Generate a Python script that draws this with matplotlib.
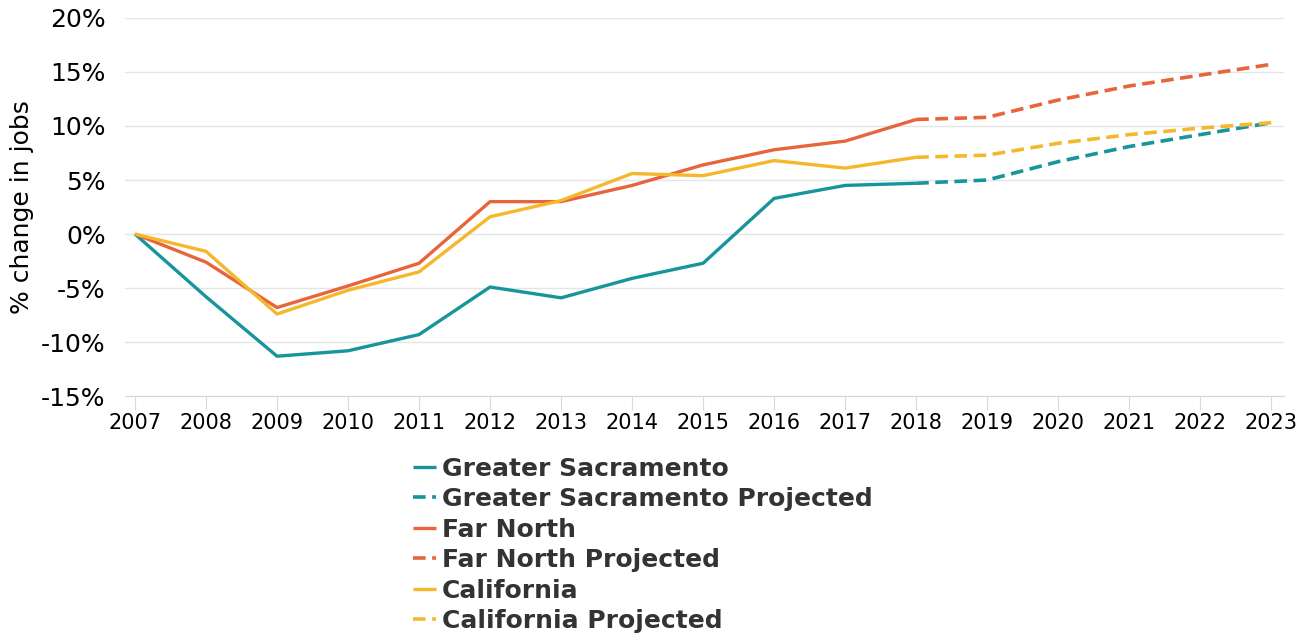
import matplotlib.pyplot as plt

# data (% change in jobs since 2007)
years = list(range(2007, 2024))
actual_years = years[:12]      # 2007-2018
proj_years = years[11:]        # 2018-2023

sac_actual = [0, -5.8, -11.3, -10.8, -9.3, -4.9, -5.9, -4.1, -2.7, 3.3, 4.5, 4.7]
sac_proj = [4.7, 5.0, 6.7, 8.1, 9.2, 10.3]

north_actual = [0, -2.6, -6.8, -4.8, -2.7, 3.0, 3.0, 4.5, 6.4, 7.8, 8.6, 10.6]
north_proj = [10.6, 10.8, 12.4, 13.7, 14.7, 15.7]

ca_actual = [0, -1.6, -7.4, -5.2, -3.5, 1.6, 3.1, 5.6, 5.4, 6.8, 6.1, 7.1]
ca_proj = [7.1, 7.3, 8.4, 9.2, 9.8, 10.3]

labels = ['Greater Sacramento', 'Greater Sacramento Projected',
          'Far North', 'Far North Projected',
          'California', 'California Projected']
colors = ['#17959b', '#e8643a', '#f5b72b']

fig = plt.figure(figsize=(13.12, 6.39), dpi=100)
ax = fig.add_axes([0.0953, 0.380, 0.8834, 0.592])

series = [(sac_actual, sac_proj), (north_actual, north_proj), (ca_actual, ca_proj)]
for i, (act, proj) in enumerate(series):
    ax.plot(actual_years, act, color=colors[i], lw=2.4, label=labels[2 * i],
            solid_capstyle='butt', zorder=3)
    ax.plot(proj_years, proj, color=colors[i], lw=2.6, dashes=(3.5, 1.8),
            label=labels[2 * i + 1], zorder=3)

ax.set_xlim(2006.86, 2023.18)
ax.set_ylim(-15, 20)
ax.set_xticks(years)
ax.set_xticklabels([str(y) for y in years], fontsize=15)
yt = list(range(-15, 21, 5))
ax.set_yticks(yt)
ax.set_yticklabels([f'{v}%' for v in yt], fontsize=18)
ax.set_ylabel('% change in jobs', fontsize=18, labelpad=5)

ax.grid(axis='y', color='#e5e5e5', lw=1)
ax.set_axisbelow(True)
for s in ['top', 'right', 'left']:
    ax.spines[s].set_visible(False)
ax.spines['bottom'].set_color('#d8d8de')
ax.tick_params(axis='x', length=10, color='#d8d8de', pad=2)
ax.tick_params(axis='y', length=0, pad=14)

fig.legend(loc='upper left', bbox_to_anchor=(0.315, 0.2856), frameon=False,
           handlelength=0.9, handletextpad=0.25, labelspacing=0.26,
           prop={'weight': 'bold', 'size': 18}, labelcolor='#333333',
           borderpad=0, borderaxespad=0)

fig.savefig('out.png', dpi=100)
